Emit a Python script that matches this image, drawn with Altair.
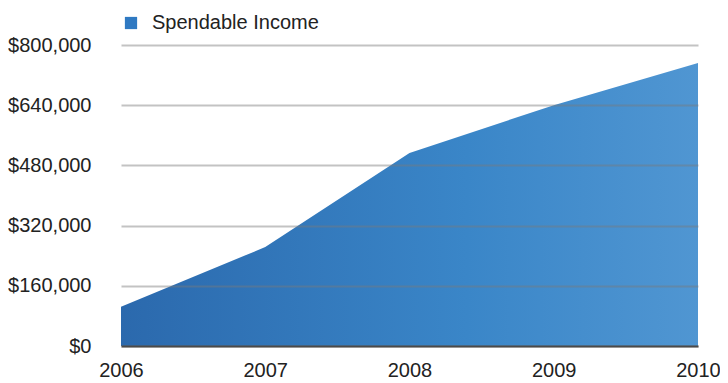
import altair as alt
import pandas as pd

years = [2006, 2007, 2008, 2009, 2010]
income = [104000, 263000, 513000, 640000, 752000]
series = ["Spendable Income"] * 5
y_ticks = [0, 160000, 320000, 480000, 640000, 800000]

df = pd.DataFrame({"year": years, "income": income, "series": series})

grad = alt.LinearGradient(
    gradient="linear",
    stops=[
        alt.GradientStop(color="#2b69ad", offset=0),
        alt.GradientStop(color="#3a86c8", offset=0.6),
        alt.GradientStop(color="#5096d2", offset=1),
    ],
    x1=0, x2=1, y1=1, y2=1,
)

FONT = "Liberation Sans"

chart = alt.Chart(df).mark_area(fill=grad, opacity=1).encode(
    x=alt.X("year:Q", scale=alt.Scale(domain=[2006, 2010], nice=False),
            axis=alt.Axis(values=years, format="d", title=None, grid=False,
                          ticks=False, domain=True, domainColor="#4a4a4a",
                          domainWidth=2, labelPadding=14, labelFontSize=20,
                          labelFont=FONT, labelColor="#222222",
                          labelFlush=False, zindex=2)),
    y=alt.Y("income:Q", scale=alt.Scale(domain=[0, 800000], nice=False),
            axis=alt.Axis(values=y_ticks, format="$,d", title=None,
                          ticks=False, domain=False, grid=True,
                          gridColor="#7a7a7a", gridOpacity=0.45, gridWidth=2,
                          labelPadding=30, labelFontSize=20, labelFont=FONT,
                          labelColor="#222222", zindex=1)),
    color=alt.Color("series:N",
                    scale=alt.Scale(range=["#2f79c2"]),
                    legend=alt.Legend(title=None, orient="none",
                                      legendX=0, legendY=-32,
                                      symbolType="square", symbolSize=150,
                                      symbolFillColor="#2f79c2",
                                      symbolStrokeWidth=0, symbolOpacity=1,
                                      labelFontSize=20, labelFont=FONT,
                                      labelColor="#222222", labelOffset=11,
                                      labelLimit=400, padding=0)),
).properties(
    width=577, height=301,
    autosize=alt.AutoSizeParams(type="none"),
    padding={"left": 113, "top": 37, "right": 22, "bottom": 37},
).configure_view(stroke=None)

chart.save("out.html", embed_options={"renderer": "svg", "actions": False})
